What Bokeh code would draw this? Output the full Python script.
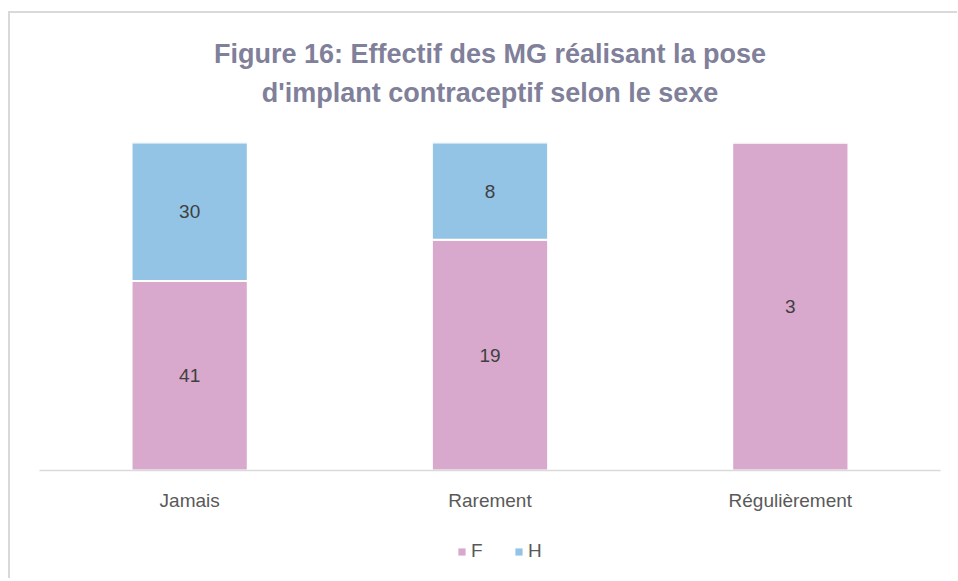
from bokeh.plotting import figure
from bokeh.models import ColumnDataSource, LabelSet, Legend, LegendItem, FactorRange, Title
from bokeh.layouts import column
from bokeh.core.properties import value
from bokeh.embed import file_html
from bokeh.resources import INLINE

categories = ["Jamais", "Rarement", "Régulièrement"]
femmes = [41, 19, 3]
hommes = [30, 8, 0]
series_names = ["F", "H"]
colors = ["#D8A9CC", "#93C4E5"]
title_lines = ["Figure 16: Effectif des MG réalisant la pose",
               "d'implant contraceptif selon le sexe"]

totals = [f + h for f, h in zip(femmes, hommes)]
f_pct = [f / t for f, t in zip(femmes, totals)]
h_pct = [h / t for h, t in zip(hommes, totals)]

src = ColumnDataSource(dict(cat=categories, F=f_pct, H=h_pct))

W, H = 949, 507
p = figure(x_range=FactorRange(*categories, range_padding=0), y_range=(0, 1),
           width=W, height=H, output_backend="svg", toolbar_location=None,
           min_border_left=29, min_border_right=19, min_border_top=129,
           min_border_bottom=H - 457)
p.margin = (11, 0, 0, 8)
p.styles = {"border-left": "2px solid #d9d9d9", "border-top": "2px solid #d9d9d9"}
p.outline_line_color = None
p.xgrid.visible = False
p.ygrid.visible = False
p.yaxis.visible = False
p.background_fill_color = "white"
p.border_fill_color = "white"

rs = p.vbar_stack(series_names, x="cat", width=0.387, source=src, color=colors,
                  line_color="white", line_width=2)

xa = p.xaxis[0]
xa.axis_line_color = "#d9d9d9"
xa.axis_line_width = 1.5
xa.major_tick_line_color = None
xa.minor_tick_line_color = None
xa.major_tick_out = 0
xa.major_label_standoff = 19
xa.major_label_text_font = "Liberation Sans"
xa.major_label_text_font_size = "19px"
xa.major_label_text_color = "#595959"

# data labels
lx, ly, lt = [], [], []
for c, f, h, fp, hp in zip(categories, femmes, hommes, f_pct, h_pct):
    if f > 0:
        lx.append(c); ly.append(fp / 2); lt.append(str(f))
    if h > 0:
        lx.append(c); ly.append(fp + hp / 2); lt.append(str(h))
lsrc = ColumnDataSource(dict(x=lx, y=ly, t=lt))
p.add_layout(LabelSet(x="x", y="y", text="t", source=lsrc, text_align="center",
                      text_baseline="middle", text_font=value("Liberation Sans"),
                      text_font_size="19px", text_color="#404040"))

# title: a spacer nearest the plot, then the two centred lines
p.add_layout(Title(text=" ", align="center", text_font_size="1px", standoff=28), "above")
for txt in reversed(title_lines):
    p.add_layout(Title(text=txt, align="center", text_font="Liberation Sans",
                       text_font_style="bold", text_font_size="27px",
                       text_color="#80809A", standoff=7), "above")

# legend strip below the chart
H2 = 60
p2 = figure(width=W, height=H2, output_backend="svg", toolbar_location=None,
            min_border=0, x_range=(0, 1), y_range=(0, 1),
            x_axis_location=None, y_axis_location=None)
p2.margin = (0, 0, 0, 8)
p2.styles = {"border-left": "2px solid #d9d9d9"}
p2.outline_line_color = None
p2.grid.visible = False
p2.background_fill_color = "white"
p2.border_fill_color = "white"
# zero-height placeholder bars, only used to draw the legend swatches
swatch = ColumnDataSource(dict(x=[0.5], top=[0], bottom=[0]))
leg_rs = [p2.vbar(x="x", top="top", bottom="bottom", width=0.01, source=swatch,
                  fill_color=c, line_color=None)
          for c in colors]
legend = Legend(items=[LegendItem(label=n, renderers=[r]) for n, r in zip(series_names, leg_rs)],
                orientation="horizontal", location=(418, 16))
legend.glyph_width = 9
legend.glyph_height = 9
legend.label_standoff = 5
legend.spacing = 23
legend.padding = 0
legend.margin = 0
legend.border_line_color = None
legend.background_fill_alpha = 0
legend.label_text_font = "Liberation Sans"
legend.label_text_font_size = "19px"
legend.label_text_color = "#595959"
p2.add_layout(legend, "center")

layout = column(p, p2, spacing=0)
open("out.html", "w").write(file_html(layout, INLINE))
